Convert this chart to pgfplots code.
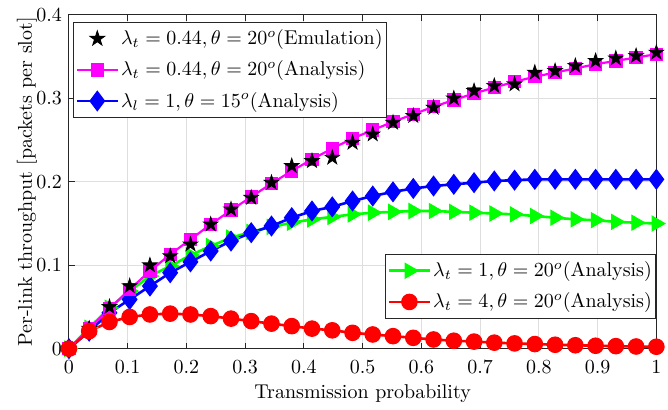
\documentclass[border=0pt]{standalone}
\usepackage{pgfplots}
\usepackage{pgfplotstable}
\pgfplotsset{compat=1.18}

\pgfdeclareplotmark{fstar}{%
  \pgfpathmoveto{\pgfpointpolar{90}{\pgfplotmarksize}}%
  \pgfpathlineto{\pgfpointpolar{126}{0.382\pgfplotmarksize}}%
  \pgfpathlineto{\pgfpointpolar{162}{\pgfplotmarksize}}%
  \pgfpathlineto{\pgfpointpolar{198}{0.382\pgfplotmarksize}}%
  \pgfpathlineto{\pgfpointpolar{234}{\pgfplotmarksize}}%
  \pgfpathlineto{\pgfpointpolar{270}{0.382\pgfplotmarksize}}%
  \pgfpathlineto{\pgfpointpolar{306}{\pgfplotmarksize}}%
  \pgfpathlineto{\pgfpointpolar{342}{0.382\pgfplotmarksize}}%
  \pgfpathlineto{\pgfpointpolar{18}{\pgfplotmarksize}}%
  \pgfpathlineto{\pgfpointpolar{54}{0.382\pgfplotmarksize}}%
  \pgfpathclose
  \pgfusepathqfillstroke
}

\definecolor{axgray}{rgb}{0.15,0.15,0.15}
\definecolor{mygreen}{rgb}{0,1,0}
\definecolor{mymag}{rgb}{1,0,1}

\pgfplotstableread{
x       emu    ana    blue   green  red
0       0      0      0      0      0
0.0345  0.024  0.024  0.021  0.025  0.021
0.0690  0.050  0.048  0.043  0.049  0.032
0.1034  0.075  0.071  0.059  0.069  0.038
0.1379  0.100  0.093  0.075  0.087  0.041
0.1724  0.111  0.113  0.091  0.099  0.042
0.2069  0.125  0.131  0.104  0.112  0.041
0.2414  0.149  0.149  0.117  0.123  0.039
0.2759  0.167  0.166  0.129  0.133  0.036
0.3103  0.181  0.182  0.139  0.140  0.033
0.3448  0.199  0.198  0.147  0.146  0.030
0.3793  0.219  0.213  0.157  0.151  0.027
0.4138  0.225  0.227  0.165  0.155  0.024
0.4483  0.229  0.240  0.170  0.158  0.022
0.4828  0.247  0.252  0.177  0.161  0.019
0.5172  0.257  0.262  0.183  0.163  0.017
0.5517  0.271  0.272  0.188  0.164  0.015
0.5862  0.279  0.281  0.192  0.165  0.013
0.6207  0.289  0.290  0.195  0.165  0.011
0.6552  0.300  0.298  0.197  0.164  0.0095
0.6897  0.309  0.306  0.199  0.163  0.0085
0.7241  0.315  0.313  0.201  0.162  0.0072
0.7586  0.317  0.320  0.202  0.161  0.0063
0.7931  0.331  0.326  0.203  0.159  0.0055
0.8276  0.333  0.331  0.203  0.157  0.0047
0.8621  0.339  0.336  0.203  0.155  0.0041
0.8966  0.345  0.341  0.203  0.154  0.0035
0.9310  0.348  0.345  0.203  0.152  0.0030
0.9655  0.351  0.349  0.203  0.151  0.0026
1       0.355  0.353  0.203  0.150  0.0023
}\datatab

\pgfplotsset{
  mylegend/.style={
    legend cell align=left,
    legend style={draw=axgray, line width=0.5pt, fill=white,
      row sep=4.6pt, inner xsep=1pt, inner ysep=2.6pt,
      nodes={inner sep=1pt}},
    legend image code/.code={%
      \draw[mark repeat=2,mark phase=2] plot coordinates {(0cm,0cm) (0.36cm,0cm) (0.72cm,0cm)};},
  },
  sEmu/.style={black, only marks, mark=fstar, mark size=3.8pt, mark options={fill=black, draw=black}},
  sAna/.style={mymag, line width=1.1pt, mark=square*, mark size=3.1pt, mark options={fill=mymag, draw=mymag, line width=0.5pt}},
  sBlue/.style={blue, line width=1.3pt, mark=diamond*, mark size=4.9pt, mark options={fill=blue, draw=blue, line width=0.5pt}},
  sGreen/.style={mygreen, line width=1.3pt, mark=triangle*, mark size=4.3pt, mark options={fill=mygreen, draw=mygreen, rotate=-90, line width=0.5pt}},
  sRed/.style={red, line width=1.3pt, mark=*, mark size=3.9pt, mark options={fill=red, draw=red, line width=0.5pt}},
}

\begin{document}
\begin{tikzpicture}
\begin{axis}[
  name=main,
  scale only axis, width=294pt, height=167pt,
  xmin=0, xmax=1, ymin=0, ymax=0.4,
  xtick={0,0.1,0.2,0.3,0.4,0.5,0.6,0.7,0.8,0.9,1},
  ytick={0,0.1,0.2,0.3,0.4},
  grid=major, grid style={color=black!13, line width=0.5pt},
  axis line style={color=axgray, line width=0.5pt},
  tick align=inside, tick pos=both, major tick length=3pt,
  tick style={color=axgray, line width=0.5pt},
  xticklabel style={yshift=-2.5pt},
  xlabel={Transmission probability},
  ylabel={Per-link throughput [packets per slot]},
  xlabel style={at={(axis description cs:0.5,-0.1347)}, anchor=center},
  ylabel style={at={(axis description cs:-0.0714,0.5)}, anchor=center},
  mylegend,
  legend style={at={(0.007,0.979)}, anchor=north west},
  clip=false,
]
\addplot[sGreen, forget plot] table[x=x, y=green] {\datatab};
\addplot[sBlue, forget plot] table[x=x, y=blue] {\datatab};
\addplot[sAna, forget plot] table[x=x, y=ana] {\datatab};
\addplot[sEmu, forget plot] table[x=x, y=emu] {\datatab};
\addplot[sRed, forget plot] table[x=x, y=red] {\datatab};
\addlegendimage{sEmu}
\addlegendentry{$\lambda_t = 0.44, \theta = 20^o$(Emulation)}
\addlegendimage{sAna}
\addlegendentry{$\lambda_t = 0.44, \theta = 20^o$(Analysis)}
\addlegendimage{sBlue}
\addlegendentry{$\lambda_l = 1, \theta = 15^o$(Analysis)}
\end{axis}
\begin{axis}[
  scale only axis, width=294pt, height=167pt,
  xmin=0, xmax=1, ymin=0, ymax=0.4,
  hide axis,
  mylegend,
  legend style={at={(1,0.09)}, anchor=south east},
]
\addlegendimage{sGreen}
\addlegendentry{$\lambda_t = 1, \theta = 20^o$(Analysis)}
\addlegendimage{sRed}
\addlegendentry{$\lambda_t = 4, \theta = 20^o$(Analysis)}
\end{axis}
\path (main.south west) ++(-34.5pt,-28pt) rectangle ([xshift=5.5pt,yshift=7.5pt]main.north east);
\end{tikzpicture}
\end{document}
